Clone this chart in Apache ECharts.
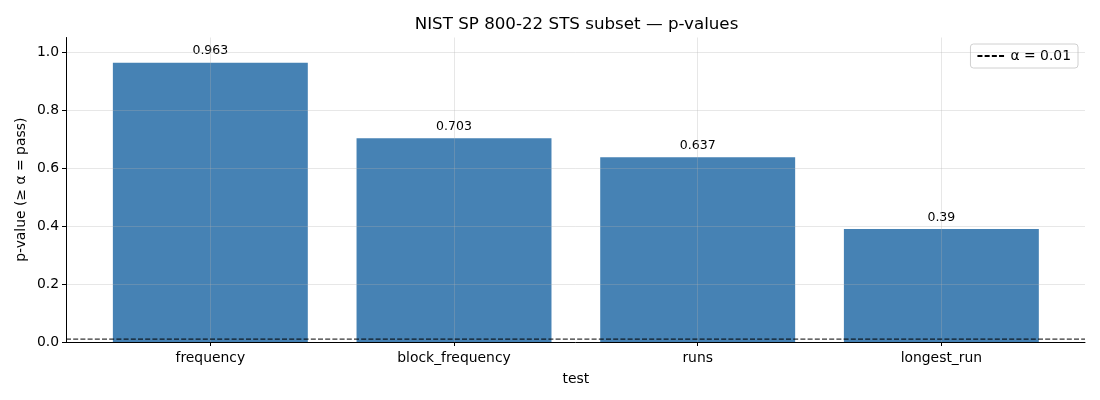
<!DOCTYPE html>
<html>
<head>
<meta charset="utf-8">
<title>NIST SP 800-22 STS subset</title>
<script src="https://cdn.jsdelivr.net/npm/echarts@6/dist/echarts.min.js"></script>
<style>
    html, body { margin: 0; padding: 0; background: #fff; }
    #chart { width: 1100px; height: 400px; }
</style>
</head>
<body>
<div id="chart"></div>
<script>
    // data
    var tests = ['frequency', 'block_frequency', 'runs', 'longest_run'];
    var pValues = [0.963, 0.703, 0.637, 0.39];
    var alpha = 0.01;
    var yTicks = [0, 0.2, 0.4, 0.6, 0.8, 1.0];

    var font = 'DejaVu Sans';
    var gridColor = 'rgba(176,176,176,0.3)';
    var chart = echarts.init(document.getElementById('chart'));

    var option = {
        animation: false,
        textStyle: { fontFamily: font, color: '#000' },
        title: {
            text: 'NIST SP 800-22 STS subset — p-values',
            left: 571.5, textAlign: 'center', top: 11,
            textStyle: { fontFamily: font, fontSize: 16.7, fontWeight: 'normal', color: '#000' }
        },
        legend: {
            right: 22, top: 44,
            data: ['α = ' + alpha],
            itemWidth: 28, itemHeight: 12, itemGap: 8,
            padding: [5, 7, 5, 6],
            borderColor: '#d0d0d0', borderWidth: 1, borderRadius: 3,
            itemStyle: { opacity: 0 },
            textStyle: { fontFamily: font, fontSize: 13.9, color: '#000' }
        },
        grid: [
            // 0: full axes box (spines, dashed threshold)
            { left: 66, right: 15, top: 37.5, bottom: 58 },
            // 1: bars on categories
            { left: 88.5, right: 36.8, top: 37.5, bottom: 58 },
            // 2: vertical gridlines at category centres
            { left: 210.3, right: 158.7, top: 37.5, bottom: 58 },
            // 3: y ticks / labels / horizontal gridlines 0..1
            { left: 66, right: 15, top: 52, bottom: 58 }
        ],
        xAxis: [
            { gridIndex: 0, type: 'value', min: 0, max: 1, z: 6,
              axisLine: { show: true, lineStyle: { color: '#000', width: 1 } },
              axisTick: { show: false }, axisLabel: { show: false }, splitLine: { show: false } },
            { gridIndex: 1, type: 'category', data: tests,
              axisLine: { show: false },
              axisTick: { show: true, alignWithLabel: true, length: 4, lineStyle: { color: '#000' } },
              axisLabel: { fontSize: 13.9, color: '#000', margin: 9, fontFamily: font },
              name: 'test', nameLocation: 'middle', nameGap: 30,
              nameTextStyle: { fontSize: 13.9, color: '#000', fontFamily: font } },
            { gridIndex: 2, type: 'value', min: 0, max: 3, interval: 1, z: 5,
              axisLine: { show: false }, axisTick: { show: false }, axisLabel: { show: false },
              splitLine: { show: true, lineStyle: { color: gridColor, width: 1 } } },
            { gridIndex: 3, type: 'value', show: false, min: 0, max: 1 }
        ],
        yAxis: [
            { gridIndex: 0, type: 'value', min: 0, max: 1.05, z: 6,
              axisLine: { show: true, lineStyle: { color: '#000', width: 1 } },
              axisTick: { show: false }, axisLabel: { show: false }, splitLine: { show: false },
              name: 'p-value (≥ α = pass)', nameLocation: 'middle', nameGap: 38,
              nameTextStyle: { fontSize: 13.9, color: '#000', fontFamily: font } },
            { gridIndex: 1, type: 'value', min: 0, max: 1.05, show: false },
            { gridIndex: 2, type: 'value', min: 0, max: 1.05, show: false },
            { gridIndex: 3, type: 'value', min: yTicks[0], max: yTicks[yTicks.length - 1], interval: 0.2, z: 5,
              axisLine: { show: false },
              axisTick: { show: true, length: 4, lineStyle: { color: '#000' } },
              axisLabel: { fontSize: 13.9, color: '#000', margin: 7, fontFamily: font,
                           formatter: function (v) { return v.toFixed(1); } },
              splitLine: { show: true, lineStyle: { color: gridColor, width: 1 } } }
        ],
        series: [
            {
                type: 'bar', xAxisIndex: 1, yAxisIndex: 1,
                data: pValues, barWidth: '80%', z: 2,
                itemStyle: { color: '#4682b4' },
                label: { show: true, position: 'top', distance: 5, fontSize: 12.5, color: '#000', fontFamily: font,
                         formatter: function (p) { return String(p.value); } }
            },
            {
                name: 'α = ' + alpha, type: 'line', xAxisIndex: 0, yAxisIndex: 0, z: 7,
                data: [[0, alpha], [1, alpha]],
                symbol: 'none', silent: true,
                lineStyle: { color: '#000', width: 1, type: [5, 2.2] }
            }
        ]
    };
    chart.setOption(option);
</script>
</body>
</html>
